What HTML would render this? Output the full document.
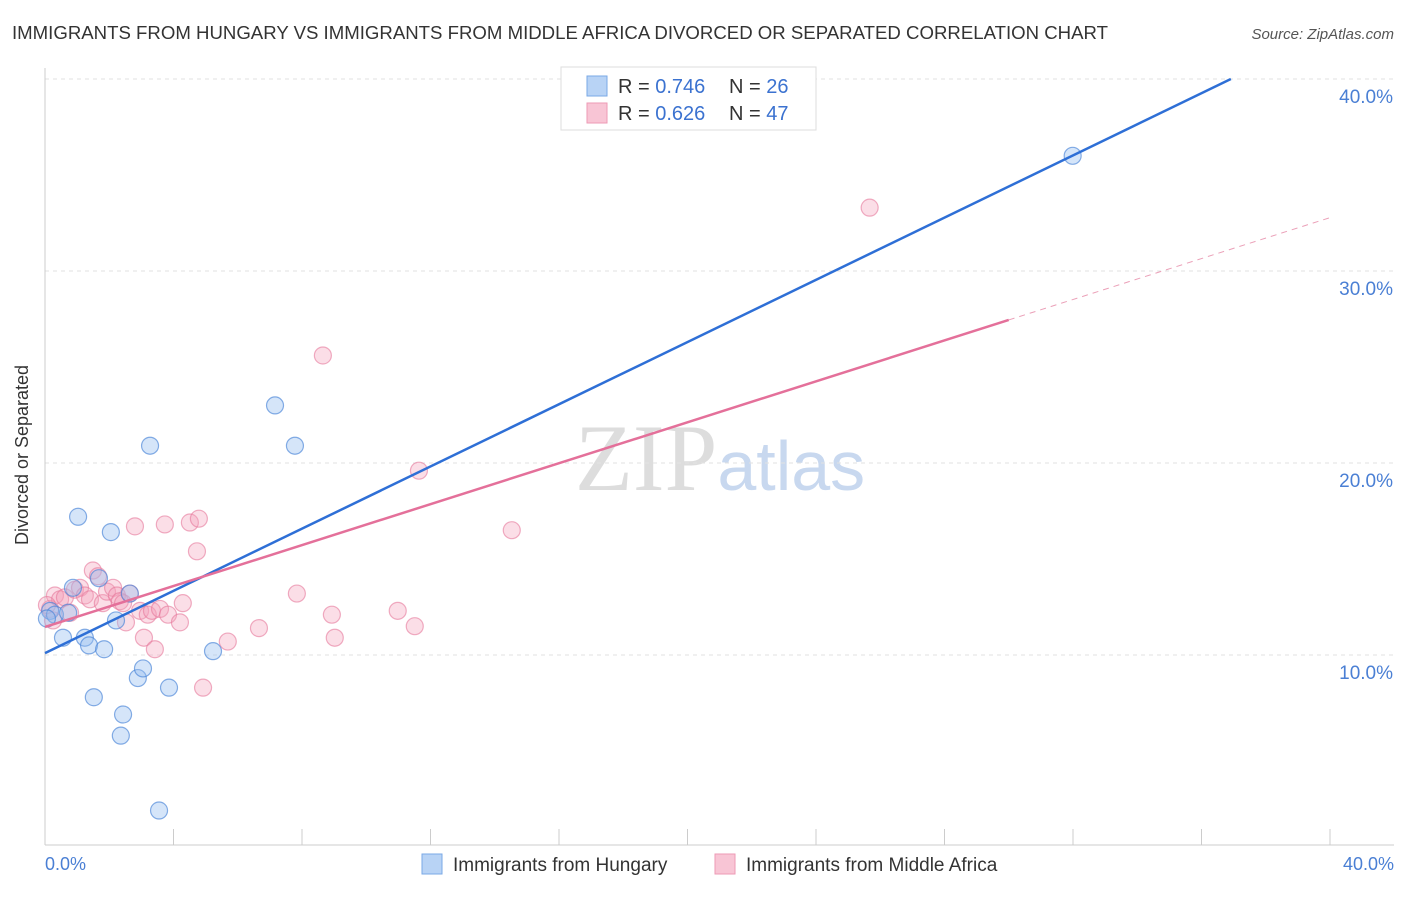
<!DOCTYPE html>
<html><head><meta charset="utf-8"><style>
body{margin:0;background:#fff;font-family:"Liberation Sans",sans-serif;}
</style></head><body>
<svg width="1406" height="892" xmlns="http://www.w3.org/2000/svg">
<text x="12" y="39" font-size="18" fill="#333" textLength="1096" lengthAdjust="spacingAndGlyphs">IMMIGRANTS FROM HUNGARY VS IMMIGRANTS FROM MIDDLE AFRICA DIVORCED OR SEPARATED CORRELATION CHART</text>
<text x="1394" y="39" font-size="15" fill="#555" font-style="italic" text-anchor="end">Source: ZipAtlas.com</text>
<text x="720" y="490" font-size="95" fill="#ddd" text-anchor="middle" font-family="Liberation Serif,serif">ZIP<tspan fill="#c8d8ef" font-family="Liberation Sans,sans-serif" font-size="70">atlas</tspan></text>
<g id="grid"></g>
<line x1="45" y1="68" x2="45" y2="845" stroke="#ccc"/>
<line x1="45" y1="845" x2="1394" y2="845" stroke="#ccc"/>
<text x="28" y="455" font-size="18" fill="#333" text-anchor="middle" transform="rotate(-90 28 455)">Divorced or Separated</text>
<text x="45" y="870" font-size="18" fill="#4a7fd4">0.0%</text>
<text x="1394" y="870" font-size="18" fill="#4a7fd4" text-anchor="end">40.0%</text>
<g id="pts"></g>
<g id="lines"></g>
<g>
<rect x="561" y="67" width="255" height="63" fill="#fff" stroke="#ddd"/>
<rect x="587" y="76" width="20" height="20" fill="#b8d3f5" stroke="#7aa8e6"/>
<rect x="587" y="103" width="20" height="20" fill="#f8c5d5" stroke="#ee9ab5"/>
<text x="618" y="93" font-size="20" fill="#333">R = <tspan fill="#3b72d0">0.746</tspan></text>
<text x="729" y="93" font-size="20" fill="#333">N = <tspan fill="#3b72d0">26</tspan></text>
<text x="618" y="120" font-size="20" fill="#333">R = <tspan fill="#3b72d0">0.626</tspan></text>
<text x="729" y="120" font-size="20" fill="#333">N = <tspan fill="#3b72d0">47</tspan></text>
</g>
<g>
<rect x="422" y="854" width="20" height="20" fill="#b8d3f5" stroke="#7aa8e6"/>
<text x="453" y="871" font-size="19" fill="#333">Immigrants from Hungary</text>
<rect x="715" y="854" width="20" height="20" fill="#f8c5d5" stroke="#ee9ab5"/>
<text x="746" y="871" font-size="19" fill="#333">Immigrants from Middle Africa</text>
</g>
</svg>
<script>
const yTicks=[10,20,30,40];
const xTicks=[0,4,8,12,16,20,24,28,32,36,40];
const blueX=[0.16,0.31,0.56,0.72,0.87,1.03,1.24,1.37,1.52,1.68,1.84,2.05,2.21,2.43,2.36,2.64,2.89,3.05,3.27,3.55,3.86,5.23,7.16,7.78,31.99,0.06];
const blueY=[12.3,12.1,10.9,12.2,13.5,17.2,10.9,10.5,7.8,14.0,10.3,16.4,11.8,6.9,5.8,13.2,8.8,9.3,20.9,1.9,8.3,10.2,23.0,20.9,36.0,11.9];
const pinkX=[0.16,0.31,0.47,0.62,0.78,0.93,1.09,1.24,1.40,1.49,1.65,1.80,1.93,2.12,2.24,2.33,2.43,2.52,2.64,2.80,2.96,3.08,3.20,3.33,3.42,3.58,3.73,3.83,4.20,4.29,4.51,4.73,4.79,4.92,5.69,6.66,7.84,8.65,8.93,9.02,10.98,11.51,11.64,14.53,25.67,0.06,0.25];
const pinkY=[12.4,13.1,12.9,13.0,12.2,13.4,13.5,13.1,12.9,14.4,14.1,12.7,13.3,13.5,13.1,12.8,12.7,11.7,13.2,16.7,12.3,10.9,12.1,12.3,10.3,12.4,16.8,12.1,11.7,12.7,16.9,15.4,17.1,8.3,10.7,11.4,13.2,25.6,12.1,10.9,12.3,11.5,19.6,16.5,33.3,12.6,11.8];
const blueFit=[10.1,0.81];
const pinkFit=[11.46,0.533];
const NS="http://www.w3.org/2000/svg";
const sx=v=>45+v*32.125, sy=v=>847-v*19.2;
function mk(t,a,p){const e=document.createElementNS(NS,t);for(const k in a)e.setAttribute(k,a[k]);p.appendChild(e);return e;}
const grid=document.getElementById('grid');
yTicks.forEach(t=>{
 const l=mk('line',{x1:45,x2:1394,y1:sy(t),y2:sy(t),stroke:'#e2e2e2','stroke-dasharray':'4,4'},grid);
 
 
 const tx=mk('text',{x:1393,y:sy(t)+24,'font-size':19,fill:'#4a7fd4','text-anchor':'end'},grid);
 tx.textContent=t.toFixed(1)+'%';
 
 
});
xTicks.forEach(t=>{
 const l=mk('line',{x1:sx(t),x2:sx(t),y1:829,y2:845,stroke:'#ccc'},grid);
 
 
});
const pts=document.getElementById('pts');
pinkX.forEach((x,i)=>{
 const c=mk('circle',{cx:sx(x),cy:sy(pinkY[i]),r:8.5,fill:'rgba(244,160,187,0.35)',stroke:'rgba(230,120,155,0.6)','stroke-width':1.2},pts);
 
 
});
blueX.forEach((x,i)=>{
 const c=mk('circle',{cx:sx(x),cy:sy(blueY[i]),r:8.5,fill:'rgba(150,190,240,0.4)',stroke:'rgba(70,130,215,0.65)','stroke-width':1.2},pts);
 
 
});
const lines=document.getElementById('lines');
const bx2=(40-blueFit[0])/blueFit[1];
const bl=mk('line',{x1:sx(0),y1:sy(blueFit[0]),x2:sx(bx2),y2:sy(40),stroke:'#2e6fd6','stroke-width':2.5},lines);


const pl=mk('line',{x1:sx(0),y1:sy(pinkFit[0]),x2:sx(30),y2:sy(pinkFit[0]+pinkFit[1]*30),stroke:'#e4709a','stroke-width':2.5},lines);


const pd=mk('line',{x1:sx(30),y1:sy(pinkFit[0]+pinkFit[1]*30),x2:sx(40),y2:sy(pinkFit[0]+pinkFit[1]*40),stroke:'#eba0b8','stroke-width':1,'stroke-dasharray':'6,5'},lines);


</script>
</body></html>
